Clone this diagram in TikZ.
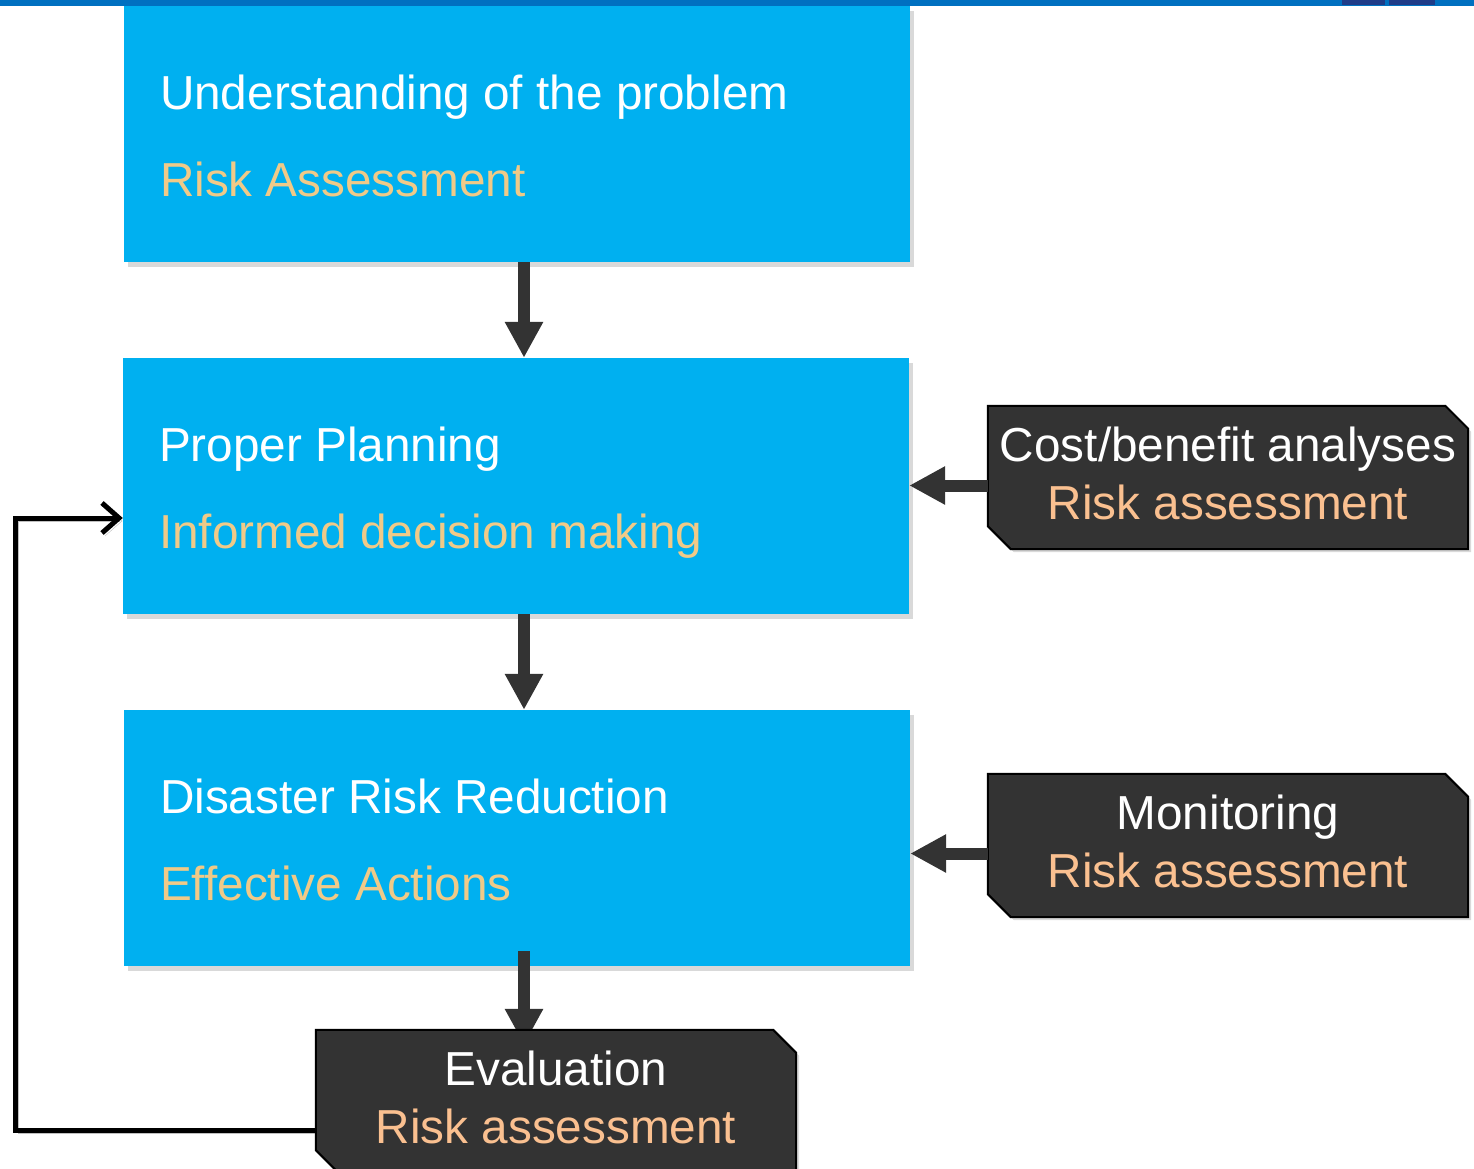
\documentclass[tikz,border=0pt]{standalone}
\usepackage{fontspec}
\setmainfont{Liberation Sans}
\usetikzlibrary{arrows.meta, calc, shadows}

\definecolor{stepblue}{HTML}{00B0F0}
\definecolor{barblue}{HTML}{0070C0}
\definecolor{logoblue}{HTML}{1F3C88}
\definecolor{darkfill}{HTML}{333333}
\definecolor{tanline}{HTML}{F0CA88}
\definecolor{peachline}{HTML}{FAC090}

\pgfdeclarelayer{front}
\pgfsetlayers{main,front}

% dark box with two cut corners round a named node
\newcommand{\sideframe}[1]{%
    \draw[sideshape] (#1.north west) -- ($(#1.north east)+(-23,0)$) -- ($(#1.north east)+(0,23)$)
        -- (#1.south east) -- ($(#1.south west)+(23,0)$) -- ($(#1.south west)+(0,-23)$) -- cycle;}

\begin{document}
\begin{tikzpicture}[x=1pt, y=-1pt,
    stepbox/.style={fill=stepblue, minimum width=786pt, minimum height=256pt, inner sep=0pt,
        drop shadow={shadow xshift=4pt, shadow yshift=-5pt, opacity=0.3}},
    sidebox/.style={minimum width=480pt, minimum height=143pt, inner sep=0pt},
    sideshape/.style={fill=darkfill, draw=black, line width=2pt, line join=miter,
        drop shadow={shadow xshift=3pt, shadow yshift=-3pt, opacity=0.3}},
    big/.style={inner sep=0pt, font=\fontsize{47.7pt}{56pt}\selectfont},
    feed/.style={darkfill, line width=12pt, -{Triangle[length=36pt, width=36pt]}},
    back/.style={black, line width=5pt, line join=miter,
        -{Straight Barb[length=17pt, width=30pt]},
        preaction={draw, black!25, transform canvas={xshift=3pt, yshift=-3pt}}}
]
\useasboundingbox (0,0) rectangle (1474,1169);

% =========================
% top bar
% =========================
\fill[barblue] (0,0) rectangle (1474,6);
\fill[logoblue] (1342,0) rectangle (1385,5);
\fill[logoblue] (1389,0) rectangle (1435,5);

% =========================
% steps
% =========================
\node[stepbox] (prob) at (517,134) {};
\node[stepbox] (plan) at (516,486) {};
\node[stepbox] (drr) at (517,838) {};

% texts
\foreach \n/\t/\l in {prob/Understanding of the problem/Risk Assessment,
    plan/Proper Planning/Informed decision making,
    drr/Disaster Risk Reduction/Effective Actions} {
    \node[big, white, anchor=base west] (\n-a) at ($(\n.north west)+(36,104)$) {\t};
    \node[big, tanline, anchor=base west] (\n-b) at ($(\n.north west)+(36,191)$) {\l};
}

% =========================
% side boxes
% =========================
\node[sidebox] (cost) at (1228,477.5) {};
\sideframe{cost}
\node[big, white, anchor=base] (cost-a) at ($(cost.north)+(0,56)$) {Cost/benefit analyses};
\node[big, peachline, anchor=base] (cost-b) at ($(cost.north)+(0,114)$) {Risk assessment};

\node[sidebox] (mon) at (1228,845.5) {};
\sideframe{mon}
\node[big, white, anchor=base] (mon-a) at ($(mon.north)+(0,56)$) {Monitoring};
\node[big, peachline, anchor=base] (mon-b) at ($(mon.north)+(0,114)$) {Risk assessment};

% evaluation sits over its arrows
\begin{pgfonlayer}{front}
\node[sidebox] (eval) at (556,1101.5) {};
\sideframe{eval}
\node[big, white, anchor=base] (eval-a) at ($(eval.north)+(0,56)$) {Evaluation};
\node[big, peachline, anchor=base] (eval-b) at ($(eval.north)+(0,114)$) {Risk assessment};
\end{pgfonlayer}

% =========================
% arrows
% =========================
\draw[feed] ([xshift=7pt]prob.south) -- ([xshift=8pt]plan.north);
\draw[feed] ([xshift=8pt]plan.south) -- ([xshift=7pt]drr.north);
\draw[feed] ($(drr.south)+(7,-15)$) -- ($(eval.north -| drr.south)+(7,15)$);

\coordinate (cost in) at ($(cost.west)+(0,8)$);
\coordinate (mon in) at ($(mon.west)+(0,8)$);
\draw[feed] (cost in) -- (cost in -| plan.east);
\draw[feed] (mon in) -- (mon in -| drr.east);

% feedback loop
\coordinate (loop corner) at (15,1130);
\draw[back] ($(eval.west)+(4,28.5)$) -- (loop corner) |- ($(plan.west)+(0,32)$);

\end{tikzpicture}
\end{document}
